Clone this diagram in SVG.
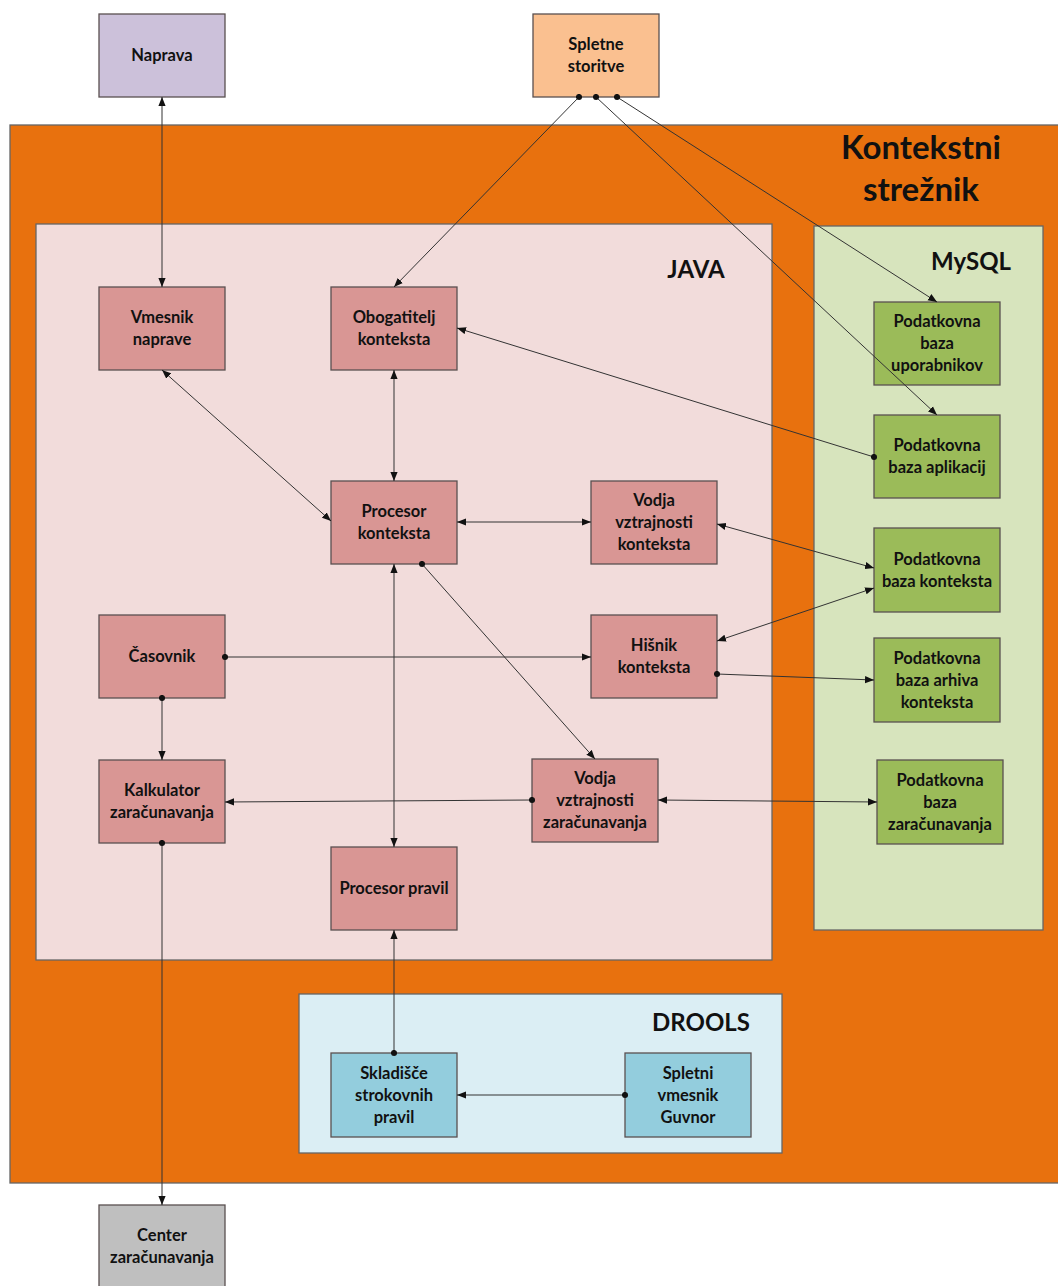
<svg xmlns="http://www.w3.org/2000/svg" width="1058" height="1286" viewBox="0 0 1058 1286">
<defs>
<marker id="arr" viewBox="0 0 10 8" refX="10" refY="4" markerWidth="9" markerHeight="8" markerUnits="userSpaceOnUse" orient="auto-start-reverse"><path d="M0,0 L10,4 L0,8 z" fill="#111"/></marker>
<marker id="dot" viewBox="0 0 8 8" refX="4" refY="4" markerWidth="7" markerHeight="7" markerUnits="userSpaceOnUse"><circle cx="4" cy="4" r="3.5" fill="#111"/></marker>
<style>
.t{font-family:Lato,"Open Sans","Liberation Sans",sans-serif;font-weight:bold;font-size:16.5px;fill:#111;text-anchor:middle}
.h{font-family:Lato,"Open Sans","Liberation Sans",sans-serif;font-weight:bold;fill:#111;text-anchor:middle}
.n{stroke:#5a5050;stroke-width:1.3}
.pink{fill:#D99694}
.green{fill:#9BBB59}
.blue{fill:#93CDDD}
.c{fill:none;stroke:#333;stroke-width:1}
.a2{marker-start:url(#arr);marker-end:url(#arr)}
.a1{marker-end:url(#arr)}
.d1{marker-start:url(#dot);marker-end:url(#arr)}
</style>
</defs>
<rect width="1058" height="1286" fill="#fff"/>
<g id="kontekstni-streznik">
<rect x="10" y="125" width="1052" height="1058" fill="#E8710E" stroke="#666" stroke-width="1.3"/>
<text class="h" x="921" y="159" font-size="33">Kontekstni</text>
<text class="h" x="921" y="201" font-size="33">strežnik</text>
</g>
<g id="java">
<rect x="36" y="224" width="736" height="736" fill="#F2DCDB" stroke="#666" stroke-width="1.3"/>
<text class="h" x="696" y="278" font-size="24">JAVA</text>
</g>
<g id="mysql">
<rect x="814" y="226" width="229" height="704" fill="#D7E4BD" stroke="#666" stroke-width="1.3"/>
<text class="h" x="971" y="270" font-size="24">MySQL</text>
</g>
<g id="drools">
<rect x="299" y="994" width="483" height="159" fill="#DBEEF4" stroke="#666" stroke-width="1.3"/>
<text class="h" x="701" y="1031" font-size="24">DROOLS</text>
</g>

<g id="naprava"><rect class="n" x="99" y="14" width="126" height="83" fill="#CCC1DA"/><text class="t" x="162" y="61">Naprava</text></g>
<g id="spletne-storitve"><rect class="n" x="533" y="14" width="126" height="83" fill="#FAC090"/><text class="t" x="596" y="50">Spletne</text><text class="t" x="596" y="72">storitve</text></g>
<g id="center-zaracunavanja"><rect class="n" x="99" y="1205" width="126" height="90" fill="#BFBFBF"/><text class="t" x="162" y="1241">Center</text><text class="t" x="162" y="1263">zaračunavanja</text></g>

<g id="vmesnik-naprave"><rect class="n pink" x="99" y="287" width="126" height="83"/><text class="t" x="162" y="323">Vmesnik</text><text class="t" x="162" y="345">naprave</text></g>
<g id="obogatitelj-konteksta"><rect class="n pink" x="331" y="287" width="126" height="83"/><text class="t" x="394" y="323">Obogatitelj</text><text class="t" x="394" y="345">konteksta</text></g>
<g id="procesor-konteksta"><rect class="n pink" x="331" y="481" width="126" height="83"/><text class="t" x="394" y="517">Procesor</text><text class="t" x="394" y="539">konteksta</text></g>
<g id="vodja-vztrajnosti-konteksta"><rect class="n pink" x="591" y="481" width="126" height="83"/><text class="t" x="654" y="506">Vodja</text><text class="t" x="654" y="528">vztrajnosti</text><text class="t" x="654" y="550">konteksta</text></g>
<g id="casovnik"><rect class="n pink" x="99" y="615" width="126" height="83"/><text class="t" x="162" y="662">Časovnik</text></g>
<g id="hisnik-konteksta"><rect class="n pink" x="591" y="615" width="126" height="83"/><text class="t" x="654" y="651">Hišnik</text><text class="t" x="654" y="673">konteksta</text></g>
<g id="kalkulator-zaracunavanja"><rect class="n pink" x="99" y="760" width="126" height="83"/><text class="t" x="162" y="796">Kalkulator</text><text class="t" x="162" y="818">zaračunavanja</text></g>
<g id="vodja-vztrajnosti-zaracunavanja"><rect class="n pink" x="532" y="759" width="126" height="83"/><text class="t" x="595" y="784">Vodja</text><text class="t" x="595" y="806">vztrajnosti</text><text class="t" x="595" y="828">zaračunavanja</text></g>
<g id="procesor-pravil"><rect class="n pink" x="331" y="847" width="126" height="83"/><text class="t" x="394" y="894">Procesor pravil</text></g>

<g id="pb-uporabnikov"><rect class="n green" x="874" y="302" width="126" height="83"/><text class="t" x="937" y="327">Podatkovna</text><text class="t" x="937" y="349">baza</text><text class="t" x="937" y="371">uporabnikov</text></g>
<g id="pb-aplikacij"><rect class="n green" x="874" y="415" width="126" height="83"/><text class="t" x="937" y="451">Podatkovna</text><text class="t" x="937" y="473">baza aplikacij</text></g>
<g id="pb-konteksta"><rect class="n green" x="874" y="528" width="126" height="84"/><text class="t" x="937" y="565">Podatkovna</text><text class="t" x="937" y="587">baza konteksta</text></g>
<g id="pb-arhiva-konteksta"><rect class="n green" x="874" y="638" width="126" height="84"/><text class="t" x="937" y="664">Podatkovna</text><text class="t" x="937" y="686">baza arhiva</text><text class="t" x="937" y="708">konteksta</text></g>
<g id="pb-zaracunavanja"><rect class="n green" x="877" y="760" width="126" height="84"/><text class="t" x="940" y="786">Podatkovna</text><text class="t" x="940" y="808">baza</text><text class="t" x="940" y="830">zaračunavanja</text></g>

<g id="skladisce-strokovnih-pravil"><rect class="n blue" x="331" y="1053" width="126" height="84"/><text class="t" x="394" y="1079">Skladišče</text><text class="t" x="394" y="1101">strokovnih</text><text class="t" x="394" y="1123">pravil</text></g>
<g id="spletni-vmesnik-guvnor"><rect class="n blue" x="625" y="1053" width="126" height="84"/><text class="t" x="688" y="1079">Spletni</text><text class="t" x="688" y="1101">vmesnik</text><text class="t" x="688" y="1123">Guvnor</text></g>

<g id="connectors">
<line class="c a2" x1="162" y1="97" x2="162" y2="287"/>
<line class="c d1" x1="579" y1="97" x2="394" y2="287"/>
<line class="c d1" x1="596" y1="97" x2="937" y2="415"/>
<line class="c d1" x1="617" y1="97" x2="937" y2="302"/>
<line class="c a2" x1="162" y1="370" x2="331" y2="521"/>
<line class="c a2" x1="394" y1="370" x2="394" y2="481"/>
<line class="c d1" x1="874" y1="457" x2="457" y2="328"/>
<line class="c a2" x1="457" y1="522" x2="591" y2="522"/>
<line class="c a2" x1="717" y1="524" x2="874" y2="568"/>
<line class="c a2" x1="874" y1="588" x2="717" y2="641"/>
<line class="c d1" x1="225" y1="657" x2="591" y2="657"/>
<line class="c d1" x1="717" y1="674" x2="874" y2="680"/>
<line class="c d1" x1="162" y1="698" x2="162" y2="760"/>
<line class="c d1" x1="532" y1="800" x2="225" y2="802"/>
<line class="c a2" x1="658" y1="800" x2="877" y2="802"/>
<line class="c d1" x1="422" y1="564" x2="595" y2="759"/>
<line class="c a2" x1="394" y1="564" x2="394" y2="847"/>
<line class="c d1" x1="394" y1="1053" x2="394" y2="930"/>
<line class="c d1" x1="625" y1="1095" x2="457" y2="1095"/>
<line class="c d1" x1="162" y1="843" x2="162" y2="1205"/>
</g>
</svg>
